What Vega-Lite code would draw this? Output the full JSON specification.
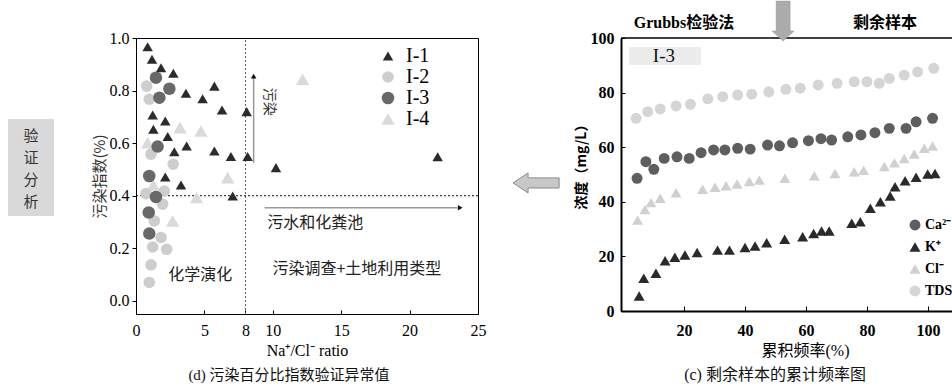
{
  "$schema": "https://vega.github.io/schema/vega-lite/v6.json",
  "background": "white",
  "padding": {"left": 7, "top": 0, "right": 0, "bottom": 0},
  "bounds": "flush",
  "spacing": 143,
  "config": {
    "font": "Liberation Serif, Noto Sans CJK SC",
    "view": {"stroke": null},
    "axis": {"grid": false, "domainColor": "#000", "tickColor": "#000", "labelColor": "#000", "titleColor": "#000", "labelFont": "Liberation Serif, Noto Sans CJK SC", "titleFont": "Liberation Serif, Noto Sans CJK SC"},
    "legend": {"labelFont": "Liberation Serif", "labelColor": "#000"},
    "title": {"font": "Liberation Serif, Noto Sans CJK SC", "fontWeight": "normal", "color": "#111"}
  },
  "datasets": {
    "boxL": [{"x": -9.36, "x2": -5.99, "y": 0.692, "y2": 0.323}],
    "boxText": [
      {"x": -7.68, "y": 0.627, "label": "验"},
      {"x": -7.68, "y": 0.543, "label": "证"},
      {"x": -7.68, "y": 0.459, "label": "分"},
      {"x": -7.68, "y": 0.375, "label": "析"}
    ],
    "vline": [{"x": 8, "y": -0.05, "y2": 1.0}],
    "hline": [{"x": 0, "x2": 25, "y": 0.4}],
    "upArrow": [{"x": 8.6, "y": 0.525, "y2": 0.85}],
    "rightArrow": [{"x": 9.4, "x2": 23.5, "y": 0.354}],
    "heads": [{"x": 8.6, "y": 0.855, "shape": "triangle-up"}, {"x": 23.7, "y": 0.354, "shape": "triangle-right"}],
    "rotText": [{"x": 9.75, "y": 0.757, "label": "污染"}],
    "leftTexts": [
      {"x": 13.1, "y": 0.297, "label": "污水和化粪池"},
      {"x": 16.15, "y": 0.12, "label": "污染调查+土地利用类型"},
      {"x": 4.7, "y": 0.1, "label": "化学演化"}
    ],
    "leftPts": [
      {"g": "I-1", "x": 0.85, "y": 0.967}, {"g": "I-1", "x": 1.17, "y": 0.919}, {"g": "I-1", "x": 1.83, "y": 0.887},
      {"g": "I-1", "x": 2.73, "y": 0.866}, {"g": "I-1", "x": 3.65, "y": 0.79}, {"g": "I-1", "x": 4.87, "y": 0.769},
      {"g": "I-1", "x": 5.73, "y": 0.817}, {"g": "I-1", "x": 6.29, "y": 0.726}, {"g": "I-1", "x": 8.09, "y": 0.72},
      {"g": "I-1", "x": 1.22, "y": 0.707}, {"g": "I-1", "x": 2.14, "y": 0.684}, {"g": "I-1", "x": 1.27, "y": 0.653},
      {"g": "I-1", "x": 2.32, "y": 0.625}, {"g": "I-1", "x": 3.7, "y": 0.589}, {"g": "I-1", "x": 2.8, "y": 0.567},
      {"g": "I-1", "x": 5.73, "y": 0.57}, {"g": "I-1", "x": 6.94, "y": 0.549}, {"g": "I-1", "x": 8.16, "y": 0.549},
      {"g": "I-1", "x": 10.23, "y": 0.507}, {"g": "I-1", "x": 22.05, "y": 0.548}, {"g": "I-1", "x": 2.14, "y": 0.471},
      {"g": "I-1", "x": 3.29, "y": 0.441}, {"g": "I-1", "x": 7.07, "y": 0.399},
      {"g": "I-4", "x": 3.22, "y": 0.659}, {"g": "I-4", "x": 4.75, "y": 0.646}, {"g": "I-4", "x": 0.85, "y": 0.602},
      {"g": "I-4", "x": 1.27, "y": 0.441}, {"g": "I-4", "x": 2.68, "y": 0.304}, {"g": "I-4", "x": 4.43, "y": 0.393},
      {"g": "I-4", "x": 6.7, "y": 0.469}, {"g": "I-4", "x": 12.18, "y": 0.843},
      {"g": "I-2", "x": 0.78, "y": 0.817}, {"g": "I-2", "x": 0.97, "y": 0.767}, {"g": "I-2", "x": 1.1, "y": 0.558},
      {"g": "I-2", "x": 2.72, "y": 0.52}, {"g": "I-2", "x": 0.73, "y": 0.408}, {"g": "I-2", "x": 2.07, "y": 0.418},
      {"g": "I-2", "x": 1.95, "y": 0.368}, {"g": "I-2", "x": 1.34, "y": 0.304}, {"g": "I-2", "x": 1.83, "y": 0.241},
      {"g": "I-2", "x": 1.22, "y": 0.205}, {"g": "I-2", "x": 2.24, "y": 0.196}, {"g": "I-2", "x": 1.1, "y": 0.137},
      {"g": "I-2", "x": 0.97, "y": 0.07},
      {"g": "I-3", "x": 1.46, "y": 0.849}, {"g": "I-3", "x": 2.44, "y": 0.807}, {"g": "I-3", "x": 1.71, "y": 0.773},
      {"g": "I-3", "x": 1.58, "y": 0.587}, {"g": "I-3", "x": 0.97, "y": 0.475}, {"g": "I-3", "x": 1.46, "y": 0.395},
      {"g": "I-3", "x": 0.93, "y": 0.336}, {"g": "I-3", "x": 0.97, "y": 0.256}
    ],
    "i3box": [{"x": 2, "x2": 25.6, "y": 96.7, "y2": 90.1}],
    "i3text": [{"x": 13.4, "y": 93.4, "label": "I-3"}],
    "topTexts": [{"x": 20, "y": 105.5, "label": "Grubbs检验法"}, {"x": 85.9, "y": 105.5, "label": "剩余样本"}],
    "topLine": [{"x": -0.66, "x2": 108.2, "y": 100}],
    "downArrow": [{"x": 52.5, "y": 106.2}],
    "leftArrow": [{"x": -28.5, "y": 46.9}],
    "rightPts": [
      {"ion": "TDS", "x": 4.3, "y": 70.6}, {"ion": "TDS", "x": 8.1, "y": 73}, {"ion": "TDS", "x": 12.2, "y": 74},
      {"ion": "TDS", "x": 17.4, "y": 75.1}, {"ion": "TDS", "x": 22.1, "y": 75.7}, {"ion": "TDS", "x": 27.8, "y": 77.7},
      {"ion": "TDS", "x": 32.7, "y": 78.5}, {"ion": "TDS", "x": 37.6, "y": 79.1}, {"ion": "TDS", "x": 42.2, "y": 79.4},
      {"ion": "TDS", "x": 47.8, "y": 80.3}, {"ion": "TDS", "x": 53.4, "y": 81.2}, {"ion": "TDS", "x": 58.1, "y": 81.6},
      {"ion": "TDS", "x": 64, "y": 82.8}, {"ion": "TDS", "x": 70.2, "y": 83.4}, {"ion": "TDS", "x": 75.8, "y": 84},
      {"ion": "TDS", "x": 80, "y": 84}, {"ion": "TDS", "x": 84, "y": 83.4}, {"ion": "TDS", "x": 87.3, "y": 85.2},
      {"ion": "TDS", "x": 92.2, "y": 86.4}, {"ion": "TDS", "x": 96.6, "y": 87.6}, {"ion": "TDS", "x": 101.9, "y": 88.9},
      {"ion": "Cl⁻", "x": 4.8, "y": 33.3}, {"ion": "Cl⁻", "x": 7.2, "y": 37.2}, {"ion": "Cl⁻", "x": 9.2, "y": 39.7},
      {"ion": "Cl⁻", "x": 12.2, "y": 41.3}, {"ion": "Cl⁻", "x": 17.4, "y": 43.3}, {"ion": "Cl⁻", "x": 26.1, "y": 44.6},
      {"ion": "Cl⁻", "x": 30.2, "y": 45.3}, {"ion": "Cl⁻", "x": 33.8, "y": 45.9}, {"ion": "Cl⁻", "x": 37.4, "y": 46.5},
      {"ion": "Cl⁻", "x": 41.4, "y": 47.4}, {"ion": "Cl⁻", "x": 44.7, "y": 48}, {"ion": "Cl⁻", "x": 53.1, "y": 48.6},
      {"ion": "Cl⁻", "x": 62.7, "y": 49.5}, {"ion": "Cl⁻", "x": 69.5, "y": 50.4}, {"ion": "Cl⁻", "x": 75.8, "y": 51},
      {"ion": "Cl⁻", "x": 78.9, "y": 51.6}, {"ion": "Cl⁻", "x": 85.7, "y": 52.9}, {"ion": "Cl⁻", "x": 89, "y": 54.3},
      {"ion": "Cl⁻", "x": 92.2, "y": 55.9}, {"ion": "Cl⁻", "x": 95.5, "y": 57.5}, {"ion": "Cl⁻", "x": 98.8, "y": 59.6},
      {"ion": "Cl⁻", "x": 101.5, "y": 60.4},
      {"ion": "Ca²⁻", "x": 4.6, "y": 48.6}, {"ion": "Ca²⁻", "x": 7.5, "y": 54.7}, {"ion": "Ca²⁻", "x": 10.1, "y": 51.9},
      {"ion": "Ca²⁻", "x": 13.5, "y": 55.9}, {"ion": "Ca²⁻", "x": 17.7, "y": 56.5}, {"ion": "Ca²⁻", "x": 21.7, "y": 55.9},
      {"ion": "Ca²⁻", "x": 25.6, "y": 58}, {"ion": "Ca²⁻", "x": 29.7, "y": 59}, {"ion": "Ca²⁻", "x": 33.4, "y": 59},
      {"ion": "Ca²⁻", "x": 37.6, "y": 59.6}, {"ion": "Ca²⁻", "x": 41.7, "y": 59.3}, {"ion": "Ca²⁻", "x": 47.4, "y": 60.8},
      {"ion": "Ca²⁻", "x": 51.3, "y": 60.5}, {"ion": "Ca²⁻", "x": 55.6, "y": 61.6}, {"ion": "Ca²⁻", "x": 60.8, "y": 62.4},
      {"ion": "Ca²⁻", "x": 64.9, "y": 63.1}, {"ion": "Ca²⁻", "x": 68.4, "y": 62.6}, {"ion": "Ca²⁻", "x": 73.7, "y": 63.8},
      {"ion": "Ca²⁻", "x": 78, "y": 64.5}, {"ion": "Ca²⁻", "x": 82.6, "y": 65.3}, {"ion": "Ca²⁻", "x": 87.3, "y": 66.9},
      {"ion": "Ca²⁻", "x": 92.8, "y": 66.9}, {"ion": "Ca²⁻", "x": 96.1, "y": 69.3}, {"ion": "Ca²⁻", "x": 101.5, "y": 70.6},
      {"ion": "K⁺", "x": 5.3, "y": 5.5}, {"ion": "K⁺", "x": 6.8, "y": 12}, {"ion": "K⁺", "x": 10.8, "y": 13.8},
      {"ion": "K⁺", "x": 13.8, "y": 18.4}, {"ion": "K⁺", "x": 17, "y": 19.7}, {"ion": "K⁺", "x": 20.3, "y": 20.5},
      {"ion": "K⁺", "x": 24.3, "y": 21.4}, {"ion": "K⁺", "x": 31, "y": 22.3}, {"ion": "K⁺", "x": 34.9, "y": 22.3},
      {"ion": "K⁺", "x": 40, "y": 23.3}, {"ion": "K⁺", "x": 43.3, "y": 23.8}, {"ion": "K⁺", "x": 47.1, "y": 25},
      {"ion": "K⁺", "x": 53, "y": 26.3}, {"ion": "K⁺", "x": 58.9, "y": 27.2}, {"ion": "K⁺", "x": 62.5, "y": 28.4},
      {"ion": "K⁺", "x": 65.1, "y": 29.3}, {"ion": "K⁺", "x": 67.6, "y": 29.3}, {"ion": "K⁺", "x": 75, "y": 32.1},
      {"ion": "K⁺", "x": 77.8, "y": 32.7}, {"ion": "K⁺", "x": 81.1, "y": 37.6}, {"ion": "K⁺", "x": 84.4, "y": 40},
      {"ion": "K⁺", "x": 87.6, "y": 42.1}, {"ion": "K⁺", "x": 89.2, "y": 45.5}, {"ion": "K⁺", "x": 92.5, "y": 47.7},
      {"ion": "K⁺", "x": 96.1, "y": 49}, {"ion": "K⁺", "x": 99.9, "y": 50.2}, {"ion": "K⁺", "x": 102.3, "y": 50.4}
    ]
  },
  "resolve": {
    "scale": {"color": "independent", "shape": "independent", "size": "independent"},
    "legend": {"color": "independent", "shape": "independent", "size": "independent"}
  },
  "hconcat": [
    {
      "width": 342,
      "height": 276,
      "view": {"stroke": "#000", "strokeWidth": 1},
      "title": {"text": "(d) 污染百分比指数验证异常值", "orient": "bottom", "fontSize": 15, "offset": 10, "dx": -18},
      "encoding": {
        "x": {"field": "x", "type": "quantitative", "scale": {"domain": [0, 25], "nice": false, "zero": false},
          "axis": {"values": [0, 5, 8, 10, 15, 20, 25], "format": "d", "title": "Na⁺/Cl⁻ ratio", "titleFontSize": 16, "titleFontWeight": "normal", "titlePadding": 4, "labelFontSize": 16, "tickSize": -4, "labelPadding": 12, "labelFlush": false, "labelOverlap": false, "domainWidth": 1}},
        "y": {"field": "y", "type": "quantitative", "scale": {"domain": [-0.05, 1.0], "nice": false, "zero": false},
          "axis": {"values": [0, 0.2, 0.4, 0.6, 0.8, 1.0], "format": ".1f", "title": "污染指数(%)", "titleFont": "Noto Sans CJK SC", "titleFontSize": 15, "titleFontWeight": "normal", "titleColor": "#333", "titlePadding": 2, "labelFontSize": 16, "tickSize": 4, "labelPadding": 3, "domainWidth": 1}}
      },
      "layer": [
        {"data": {"name": "boxL"}, "mark": {"type": "rect", "fill": "#d9d9d9"},
          "encoding": {"x2": {"field": "x2"}, "y2": {"field": "y2"}}},
        {"data": {"name": "boxText"}, "mark": {"type": "text", "font": "Noto Sans CJK SC", "fontSize": 15, "align": "center", "baseline": "middle", "color": "#333"},
          "encoding": {"text": {"field": "label"}}},
        {"data": {"name": "vline"}, "mark": {"type": "rule", "color": "#555", "strokeDash": [2, 2], "strokeWidth": 1},
          "encoding": {"y2": {"field": "y2"}}},
        {"data": {"name": "hline"}, "mark": {"type": "rule", "color": "#111", "strokeDash": [2, 2], "strokeWidth": 1},
          "encoding": {"x2": {"field": "x2"}}},
        {"data": {"name": "upArrow"}, "mark": {"type": "rule", "color": "#999", "strokeWidth": 1.5},
          "encoding": {"y2": {"field": "y2"}}},
        {"data": {"name": "rightArrow"}, "mark": {"type": "rule", "color": "#999", "strokeWidth": 1.5},
          "encoding": {"x2": {"field": "x2"}}},
        {"data": {"name": "heads"}, "mark": {"type": "point", "filled": true, "color": "#111", "size": 30, "opacity": 1},
          "encoding": {"shape": {"field": "shape", "type": "nominal", "scale": null}}},
        {"data": {"name": "rotText"}, "mark": {"type": "text", "font": "Noto Sans CJK SC", "fontSize": 14, "angle": 90, "align": "center", "baseline": "middle", "color": "#333"},
          "encoding": {"text": {"field": "label"}}},
        {"data": {"name": "leftTexts"}, "mark": {"type": "text", "font": "Noto Sans CJK SC", "fontSize": 16, "align": "center", "baseline": "middle", "color": "#222"},
          "encoding": {"text": {"field": "label"}}},
        {"data": {"name": "leftPts"}, "mark": {"type": "point", "filled": true, "opacity": 1, "strokeWidth": 0},
          "encoding": {
            "color": {"field": "g", "type": "nominal", "scale": {"domain": ["I-1", "I-2", "I-3", "I-4"], "range": ["#2b2b2b", "#cdcdcd", "#686868", "#dadada"]},
              "legend": {"orient": "none", "legendX": 242, "legendY": 8, "title": null, "labelFontSize": 20, "labelFont": "Liberation Serif", "symbolSize": 130, "rowPadding": 1, "labelOffset": 8, "padding": 0}},
            "shape": {"field": "g", "type": "nominal", "scale": {"domain": ["I-1", "I-2", "I-3", "I-4"], "range": ["triangle-up", "circle", "circle", "triangle-up"]}},
            "size": {"field": "g", "type": "ordinal", "scale": {"domain": ["I-1", "I-2", "I-3", "I-4"], "range": [110, 180, 170, 100]}, "legend": null}
          }}
      ]
    },
    {
      "width": 332,
      "height": 273,
      "view": {"stroke": null},
      "title": {"text": "(c) 剩余样本的累计频率图", "orient": "bottom", "fontSize": 16, "offset": 9, "dx": -12},
      "encoding": {
        "x": {"field": "x", "type": "quantitative", "scale": {"domain": [-0.66, 108.2], "nice": false, "zero": false},
          "axis": {"values": [20, 40, 60, 80, 100], "format": "d", "title": "累积频率(%)", "titleFontSize": 16, "titleFontWeight": "normal", "titleX": 184, "titlePadding": 4, "labelFontSize": 16, "labelFontWeight": "bold", "tickSize": -5, "labelPadding": 16, "labelFlush": false, "domainWidth": 2}},
        "y": {"field": "y", "type": "quantitative", "scale": {"domain": [0, 100], "nice": false, "zero": false},
          "axis": {"values": [0, 20, 40, 60, 80, 100], "format": "d", "title": "浓度（mg/L）", "titleFont": "Noto Sans CJK SC", "titleFontSize": 14, "titleFontWeight": "bold", "titleY": 125, "titlePadding": 2, "labelFontSize": 16, "labelFontWeight": "bold", "tickSize": -4, "labelPadding": 11, "domainWidth": 2}}
      },
      "layer": [
        {"data": {"name": "i3box"}, "mark": {"type": "rect", "fill": "#ececec"},
          "encoding": {"x2": {"field": "x2"}, "y2": {"field": "y2"}}},
        {"data": {"name": "i3text"}, "mark": {"type": "text", "font": "Liberation Serif", "fontSize": 19, "align": "center", "baseline": "middle", "color": "#111"},
          "encoding": {"text": {"field": "label"}}},
        {"data": {"name": "topTexts"}, "mark": {"type": "text", "fontSize": 16, "fontWeight": "bold", "align": "center", "baseline": "middle", "color": "#000"},
          "encoding": {"text": {"field": "label"}}},
        {"data": {"name": "topLine"}, "mark": {"type": "rule", "color": "#000", "strokeWidth": 1.5},
          "encoding": {"x2": {"field": "x2"}}},
        {"data": {"name": "downArrow"}, "mark": {"type": "point", "filled": true, "opacity": 1, "color": "#ababab", "stroke": "#999", "strokeWidth": 0.5, "size": 1600,
          "shape": "M-0.35,-1L0.35,-1L0.35,0.5L0.55,0.5L0,1L-0.55,0.5L-0.35,0.5Z"},
          "encoding": {}},
        {"data": {"name": "leftArrow"}, "mark": {"type": "point", "filled": true, "opacity": 1, "fill": "#c8c8c8", "stroke": "#8a8a8a", "strokeWidth": 1, "size": 2116,
          "shape": "M-1,0L-0.35,-0.435L-0.35,-0.22L1,-0.22L1,0.22L-0.35,0.22L-0.35,0.435Z"},
          "encoding": {}},
        {"data": {"name": "rightPts"}, "mark": {"type": "point", "filled": true, "opacity": 1, "strokeWidth": 0, "size": 120},
          "encoding": {
            "color": {"field": "ion", "type": "nominal", "scale": {"domain": ["Ca²⁻", "K⁺", "Cl⁻", "TDS"], "range": ["#5e5e5e", "#2a2a2a", "#d0d0d0", "#d5d5d5"]},
              "legend": {"orient": "none", "legendX": 287, "legendY": 180, "title": null, "labelFontSize": 14, "labelFontWeight": "bold", "labelFont": "Liberation Serif", "symbolSize": 120, "rowPadding": 8, "labelOffset": 3, "padding": 0}},
            "shape": {"field": "ion", "type": "nominal", "scale": {"domain": ["Ca²⁻", "K⁺", "Cl⁻", "TDS"], "range": ["circle", "triangle-up", "triangle-up", "circle"]}}
          }}
      ]
    }
  ]
}
